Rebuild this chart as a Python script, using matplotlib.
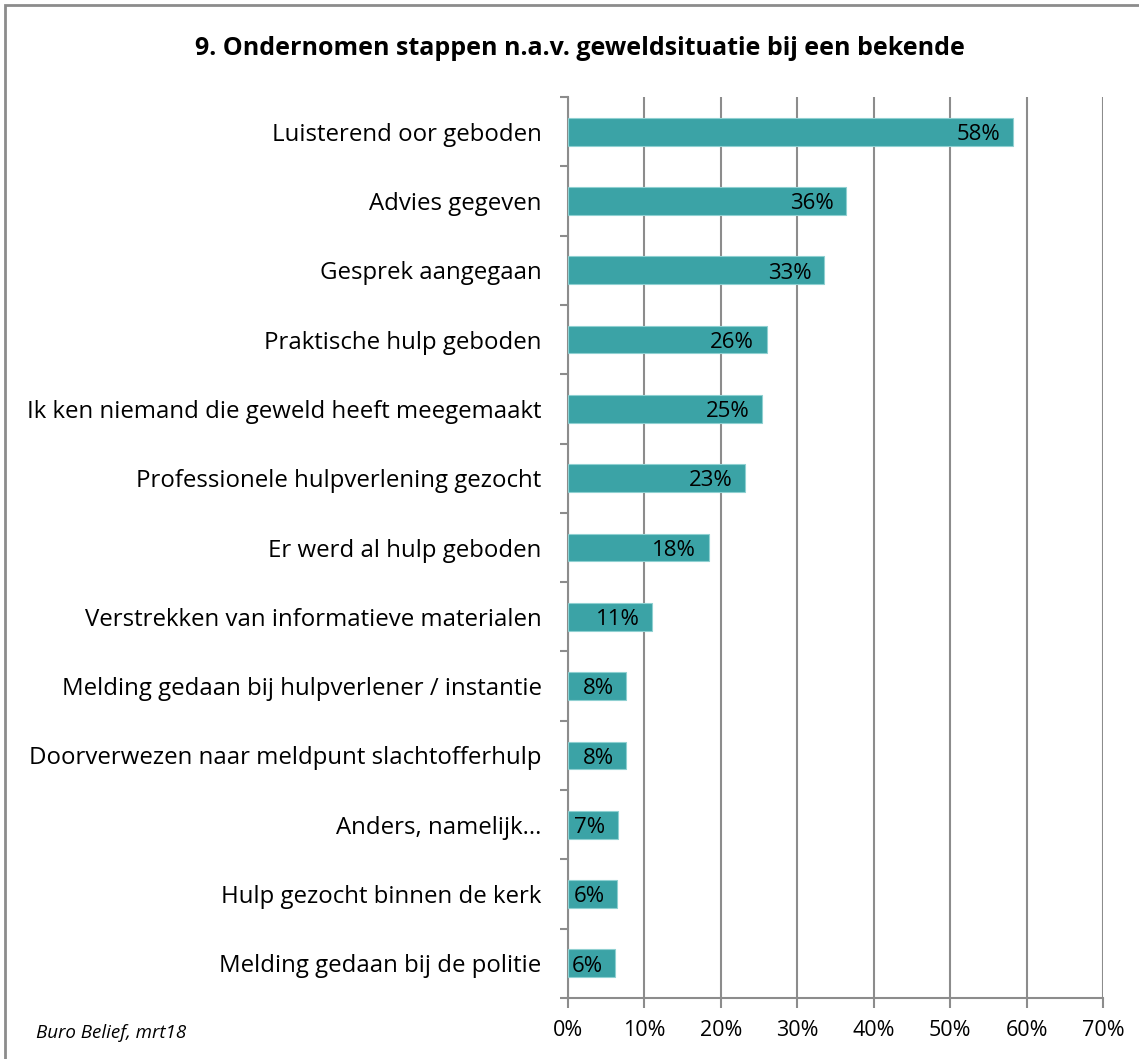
import numpy as np
import matplotlib.pyplot as plt
from matplotlib.patches import Rectangle

categories = [
    'Luisterend oor geboden',
    'Advies gegeven',
    'Gesprek aangegaan',
    'Praktische hulp geboden',
    'Ik ken niemand die geweld heeft meegemaakt',
    'Professionele hulpverlening gezocht',
    'Er werd al hulp geboden',
    'Verstrekken van informatieve materialen',
    'Melding gedaan bij hulpverlener / instantie',
    'Doorverwezen naar meldpunt slachtofferhulp',
    'Anders, namelijk...',
    'Hulp gezocht binnen de kerk',
    'Melding gedaan bij de politie',
]
values = [58.2, 36.4, 33.5, 26.0, 25.4, 23.2, 18.4, 11.0, 7.6, 7.6, 6.5, 6.4, 6.2]
labels = ['58%', '36%', '33%', '26%', '25%', '23%', '18%', '11%', '8%', '8%', '7%', '6%', '6%']
xticks = [0, 10, 20, 30, 40, 50, 60, 70]

plt.rcParams['font.family'] = ['Open Sans', 'DejaVu Sans']

fig = plt.figure(figsize=(11.39, 10.59), dpi=100)
ax = fig.add_axes([0.4987, 0.0576, 0.4697, 0.8508])

# outer chart border (only left and top visible)
fig.patches.append(Rectangle((0.0048, -0.05), 1.2, 1.045, transform=fig.transFigure,
                             fill=False, edgecolor='#8c8c8c', linewidth=2))

n = len(categories)
pos = np.arange(n)
bar_color = '#3ba3a6'
ax.barh(pos, values, height=0.4, color=bar_color, edgecolor='#8fd0d1', linewidth=0.8, zorder=3)

for p, v, lab in zip(pos, values, labels):
    ax.annotate(lab, (v, p), xytext=(-9, -2), textcoords='offset points',
                ha='right', va='center', fontsize=16, color='black', zorder=4)

ax.set_xlim(0, 70)
ax.set_ylim(n - 0.5, -0.5)
ax.set_xticks(xticks)
ax.set_xticklabels([f'{t}%' for t in xticks], fontsize=15.5)
ax.set_yticks(pos)
ax.set_yticklabels(categories, fontsize=17.3)
ax.set_yticks(np.arange(n + 1) - 0.5, minor=True)

grid_c = '#8c8c8c'
ax.grid(axis='x', color=grid_c, linewidth=1.5, zorder=0)
ax.set_axisbelow(True)
for s in ['top', 'right']:
    ax.spines[s].set_visible(False)
for s in ['left', 'bottom']:
    ax.spines[s].set_color(grid_c)
    ax.spines[s].set_linewidth(1.5)
ax.tick_params(axis='y', which='major', length=0, pad=19)
ax.tick_params(axis='y', which='minor', length=6, width=1.5, color=grid_c, direction='out')
ax.tick_params(axis='x', length=7, width=1.5, color=grid_c, pad=9)

fig.text(0.509, 0.954, '9. Ondernomen stappen n.a.v. geweldsituatie bij een bekende',
         ha='center', va='center', fontsize=18, fontweight='bold')
fig.text(0.032, 0.025, 'Buro Belief, mrt18', ha='left', va='center',
         fontsize=13.5, style='italic')

fig.savefig('out.png', dpi=100)
